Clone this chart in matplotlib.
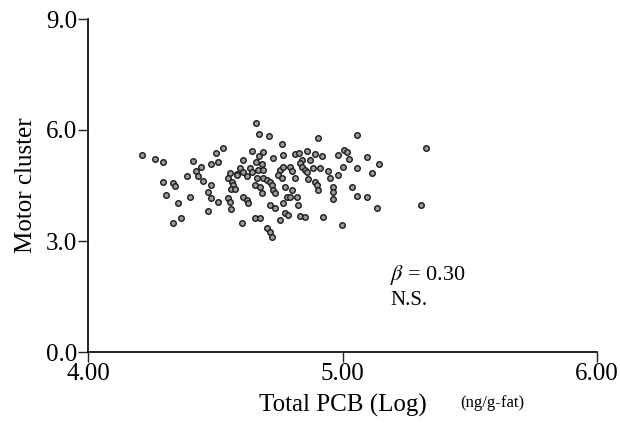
import numpy as np
import matplotlib as mpl
import matplotlib.pyplot as plt

mpl.rcParams['font.family'] = 'Liberation Serif'
mpl.rcParams['mathtext.fontset'] = 'stix'
mpl.rcParams['axes.spines.right'] = False
mpl.rcParams['axes.spines.top'] = False

# Total PCB (log, ng/g-fat) vs Motor cluster score
pcb = [4.212, 4.263, 4.295, 4.413, 4.503, 4.530, 4.511, 4.483, 4.444, 4.389,
       4.424, 4.432, 4.452, 4.483, 4.295, 4.334, 4.342, 4.306, 4.354, 4.401,
       4.472, 4.483, 4.511, 4.472, 4.365, 4.334, 4.558, 4.550, 4.566, 4.585,
       4.570, 4.562, 4.578, 4.550, 4.558, 4.562, 4.660, 4.672, 4.711, 4.762,
       4.904, 4.644, 4.672, 4.688, 4.609, 4.660, 4.684, 4.727, 4.766, 4.813,
       4.829, 4.861, 4.892, 4.919, 4.841, 4.833, 4.872, 4.982, 4.597, 4.609,
       4.637, 4.644, 4.668, 4.688, 4.585, 4.625, 4.754, 4.766, 4.794, 4.802,
       4.747, 4.762, 4.841, 4.853, 4.861, 4.884, 4.912, 4.943, 4.813, 4.664,
       4.688, 4.703, 4.715, 4.864, 4.892, 4.900, 4.904, 4.951, 4.982, 4.656,
       4.676, 4.723, 4.727, 4.735, 4.774, 4.802, 4.684, 4.609, 4.625, 4.629,
       4.782, 4.794, 4.821, 4.963, 4.963, 4.963, 4.766, 4.825, 4.715, 4.735,
       4.774, 4.786, 4.833, 4.853, 4.923, 4.656, 4.676, 4.754, 4.605, 4.703,
       4.715, 4.723, 5.057, 5.328, 5.006, 5.018, 5.026, 5.096, 5.143, 5.002,
       5.057, 5.116, 4.998, 5.037, 5.057, 5.096, 5.136, 5.308]
motor = [5.32, 5.22, 5.14, 5.16, 5.38, 5.51, 5.14, 5.08, 5.00, 4.76,
         4.89, 4.76, 4.62, 4.51, 4.59, 4.57, 4.49, 4.24, 4.03, 4.19,
         4.32, 4.16, 4.05, 3.81, 3.62, 3.49, 4.84, 4.70, 4.59, 4.81,
         4.51, 4.41, 4.41, 4.16, 4.05, 3.86, 6.19, 5.89, 5.84, 5.62,
         5.78, 5.43, 5.30, 5.41, 5.19, 5.14, 5.08, 5.24, 5.32, 5.35,
         5.38, 5.43, 5.35, 5.30, 5.19, 5.11, 5.19, 5.32, 4.97, 4.86,
         4.97, 4.86, 4.92, 4.92, 4.78, 4.76, 4.92, 5.00, 5.00, 4.89,
         4.78, 4.70, 5.00, 4.92, 4.86, 4.97, 4.97, 4.89, 4.70, 4.70,
         4.70, 4.65, 4.59, 4.68, 4.59, 4.51, 4.38, 4.70, 4.78, 4.51,
         4.46, 4.51, 4.38, 4.30, 4.46, 4.38, 4.30, 4.19, 4.11, 4.03,
         4.19, 4.19, 4.19, 4.46, 4.32, 4.14, 4.03, 3.97, 3.97, 3.89,
         3.76, 3.70, 3.68, 3.65, 3.65, 3.62, 3.62, 3.57, 3.49, 3.35,
         3.24, 3.11, 5.86, 5.51, 5.46, 5.41, 5.22, 5.27, 5.08, 5.00,
         4.97, 4.84, 3.43, 4.46, 4.22, 4.19, 3.89, 3.97]

xticks = [4.0, 5.0, 6.0]
xtick_labels = ['4.00', '5.00', '6.00']
yticks = [0.0, 3.0, 6.0, 9.0]
ytick_labels = ['0.0', '3.0', '6.0', '9.0']

fig = plt.figure(figsize=(6.2, 4.23), dpi=100)
ax = fig.add_axes([88 / 620, 71 / 423, 509 / 620, 333 / 423])

ax.scatter(pcb, motor, s=16, facecolor='#9a9a9a', edgecolor='#1a1a1a',
           linewidth=1.0, zorder=3, clip_on=False)

ax.set_xlim(4.0, 6.0)
ax.set_ylim(0.0, 9.0)
ax.set_xticks(xticks)
ax.set_xticklabels(xtick_labels)
ax.set_yticks(yticks)
ax.set_yticklabels(ytick_labels)
ax.tick_params(axis='both', labelsize=18, length=7, width=1.0, pad=1, color='#222222')
for s in ['left', 'bottom']:
    ax.spines[s].set_linewidth(1.3)
    ax.spines[s].set_color('#111111')

ax.set_ylabel('Motor cluster', fontsize=18, labelpad=6)

fig.text(343 / 620, 1 - 405 / 423, 'Total PCB (Log)', fontsize=18,
         ha='center', va='center')
fig.text(492 / 620, 1 - 403 / 423, '(ng/g-fat)', fontsize=12,
         ha='center', va='center')

ax.text(5.187, 2.08, r'$\beta$ = 0.30', fontsize=16, ha='left', va='center')
ax.text(5.187, 1.40, 'N.S.', fontsize=15, ha='left', va='center')

plt.savefig('out.png', dpi=100)
